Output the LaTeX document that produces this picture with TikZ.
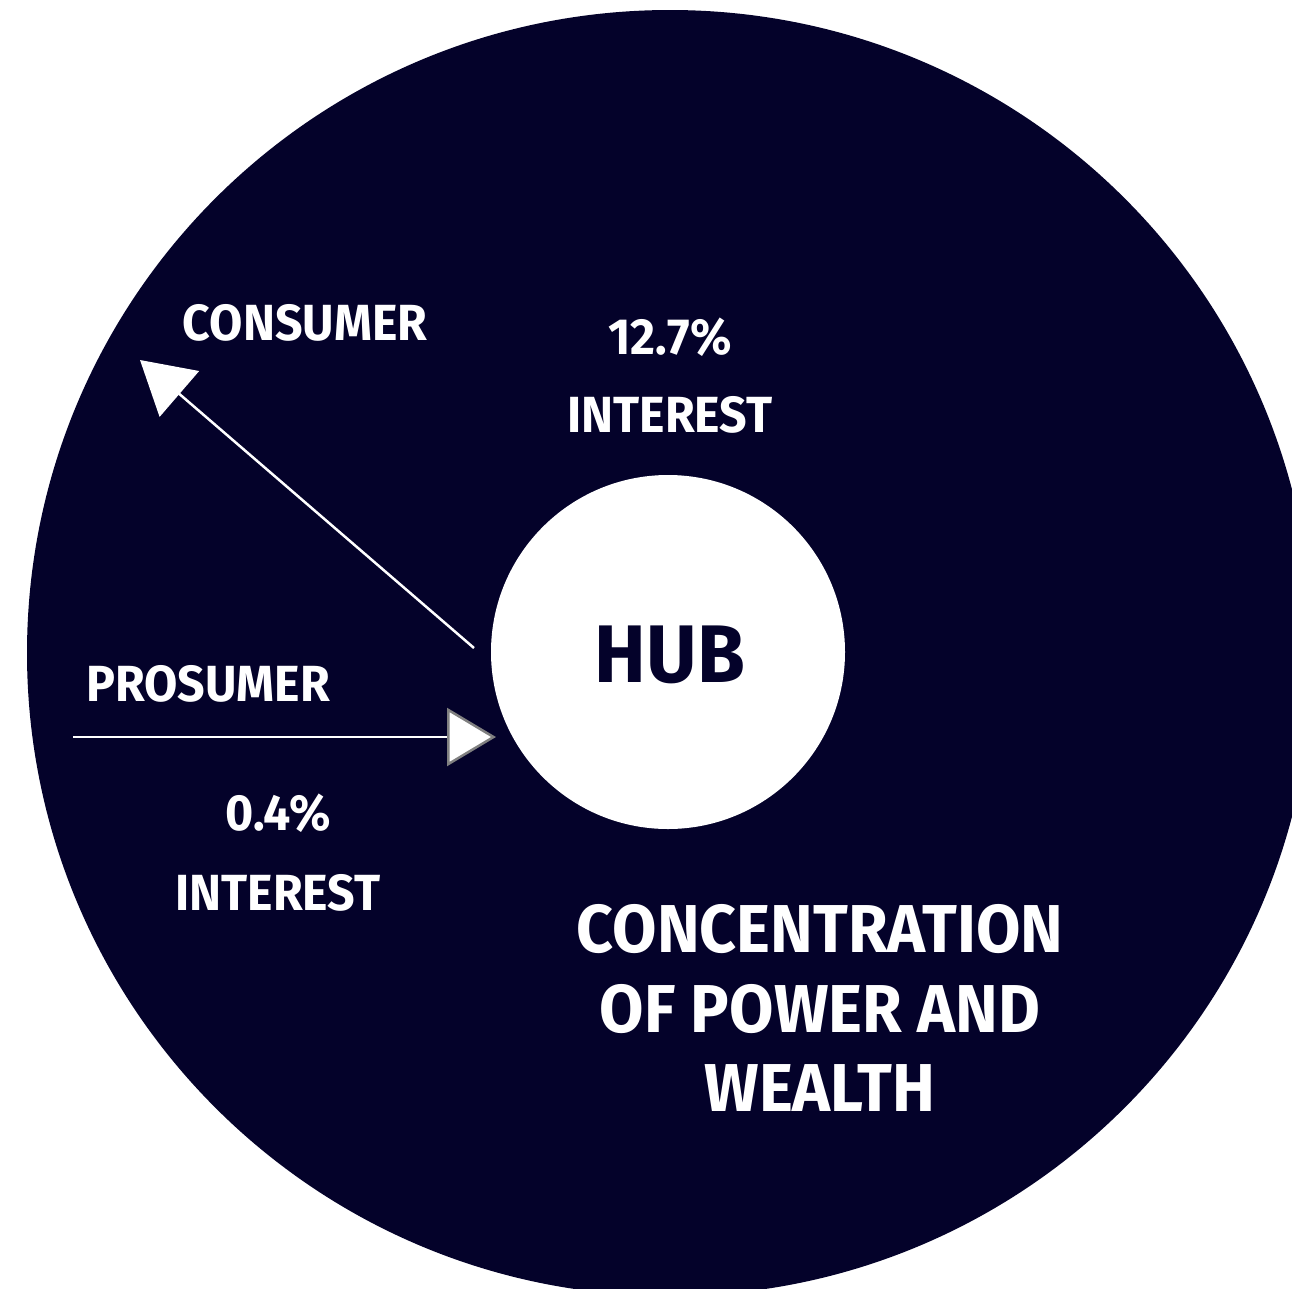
\documentclass[tikz,border=0pt]{standalone}
\usepackage{fontspec}
\setmainfont{Fira Sans}[FakeStretch=0.95]
\usetikzlibrary{arrows.meta}
\definecolor{navy}{HTML}{04022A}
\begin{document}
\begin{tikzpicture}[x=1bp,y=-1bp,
  lbl/.style={text=white,font=\bfseries\fontsize{51}{60}\selectfont,inner sep=0pt,anchor=base,align=center},
  big/.style={text=white,font=\bfseries\fontsize{68}{80}\selectfont,inner sep=0pt,align=center},
  link/.style={draw=white,line width=2.5bp}]
\useasboundingbox (0,0) rectangle (1292,1289);
\begin{scope}
\clip (0,0) rectangle (1292,1289);
\fill[navy] (670,653) circle[radius=643];
\end{scope}
\node[circle,fill=white,minimum size=354bp,inner sep=0pt] (hub) at (668,652) {};
\node[text=navy,font=\bfseries\fontsize{82}{84}\selectfont,anchor=base] (hubtxt) at (670,682) {HUB};
\node[lbl] (consumer) at (305,340) {CONSUMER};
\node[lbl] (prosumer) at (208,701) {PROSUMER};
\node[lbl] (p1) at (670,354) {12.7\%};
\node[lbl] (i1) at (670,432) {INTEREST};
\node[lbl] (p2) at (278,830) {0.4\%};
\node[lbl] (i2) at (278,910) {INTEREST};
\node[big] (conc) at (820,1008) {CONCENTRATION\\OF POWER AND\\WEALTH};
\coordinate (cs) at (474,648);
\coordinate (ct) at (140,360);
\coordinate (ps) at (73,737);
\coordinate (pt) at (496,737);
\draw[link,-{Triangle[length=52bp,width=60bp,fill=white]}] (cs) -- (ct);
\draw[link,-{Triangle[length=49bp,width=58bp,fill=white,color=gray]}] (ps) -- (pt);
\end{tikzpicture}
\end{document}
